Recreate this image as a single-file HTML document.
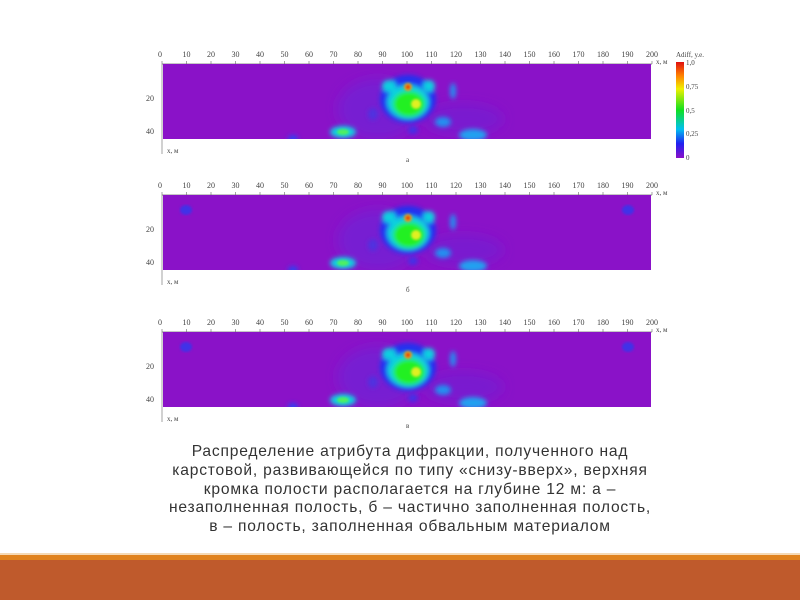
<!DOCTYPE html>
<html><head><meta charset="utf-8"><style>
body{margin:0;width:800px;height:600px;background:#fff;position:relative;overflow:hidden;font-family:"Liberation Sans",sans-serif}
.cap{position:absolute;left:100px;top:443px;width:620px;text-align:center;font-size:15.6px;letter-spacing:0.8px;line-height:18.8px;color:#333;white-space:nowrap}
.b1{position:absolute;left:0;top:553px;width:800px;height:2px;background:#f5d9b5}
.b2{position:absolute;left:0;top:555px;width:800px;height:5px;background:#e0821e}
.b3{position:absolute;left:0;top:560px;width:800px;height:40px;background:#bf5a2c}
</style></head><body>
<svg width="800" height="560" style="position:absolute;left:0;top:0" font-family="Liberation Serif,serif" font-size="8" fill="#444">
<defs>
<filter id="bl" x="-20%" y="-50%" width="140%" height="200%"><feGaussianBlur stdDeviation="2.5"/></filter>
<filter id="bl3" x="-20%" y="-50%" width="140%" height="200%"><feGaussianBlur stdDeviation="6"/></filter>
<filter id="bl2"><feGaussianBlur stdDeviation="1.2"/></filter>
<clipPath id="cp"><rect x="0" y="0" width="488" height="75"/></clipPath>
<linearGradient id="cb" x1="0" y1="1" x2="0" y2="0">
<stop offset="0" stop-color="#8a10c8"/><stop offset="0.15" stop-color="#2020f0"/><stop offset="0.3" stop-color="#00c0f0"/><stop offset="0.5" stop-color="#10e020"/><stop offset="0.72" stop-color="#f0f000"/><stop offset="0.86" stop-color="#ff8000"/><stop offset="1" stop-color="#e01010"/></linearGradient>
<g id="hm">
<rect width="488" height="75" fill="#8a12c8"/>
<g clip-path="url(#cp)">
<g filter="url(#bl3)">
<ellipse cx="215" cy="45" rx="40" ry="30" fill="#6a24d8" opacity="0.6"/>
<ellipse cx="300" cy="55" rx="40" ry="15" fill="#6a24d8" opacity="0.5"/>
</g>
<g filter="url(#bl)">
<ellipse cx="245" cy="35" rx="28" ry="24" fill="#2030f0"/>
<ellipse cx="245" cy="38" rx="21" ry="17" fill="#10d0e0"/>
<ellipse cx="226" cy="22" rx="7" ry="6" fill="#10d0e0"/>
<ellipse cx="266" cy="22" rx="6" ry="6" fill="#10d0e0"/>
<ellipse cx="246" cy="40" rx="16" ry="13" fill="#20f020"/>
<ellipse cx="180" cy="68" rx="13" ry="6" fill="#10d0e0"/>
<ellipse cx="290" cy="27" rx="3" ry="8" fill="#2090f0"/>
<ellipse cx="280" cy="58" rx="8" ry="5" fill="#2090f0"/>
<ellipse cx="310" cy="71" rx="14" ry="6" fill="#20a0f0"/>
<ellipse cx="130" cy="75" rx="5" ry="4" fill="#3040f0"/>
<ellipse cx="210" cy="50" rx="5" ry="6" fill="#5030e0"/>
<ellipse cx="250" cy="66" rx="5" ry="4" fill="#4030e8"/>
</g>
<g filter="url(#bl2)">
<circle cx="253" cy="40" r="5" fill="#e0f020"/>
<circle cx="245" cy="23" r="4" fill="#f0a010"/>
<circle cx="245" cy="23" r="2" fill="#e01010"/>
<ellipse cx="180" cy="68" rx="6" ry="3" fill="#50f060"/>
</g>
</g>
</g>
<g id="tk">
<line x1="162" y1="0" x2="652" y2="0" stroke="#666" stroke-width="0.8"/>
<g stroke="#666" stroke-width="0.6">
<line x1="162" y1="0" x2="162" y2="-3"/><line x1="186.5" y1="0" x2="186.5" y2="-3"/><line x1="211" y1="0" x2="211" y2="-3"/><line x1="235.5" y1="0" x2="235.5" y2="-3"/><line x1="260" y1="0" x2="260" y2="-3"/><line x1="284.5" y1="0" x2="284.5" y2="-3"/><line x1="309" y1="0" x2="309" y2="-3"/><line x1="333.5" y1="0" x2="333.5" y2="-3"/><line x1="358" y1="0" x2="358" y2="-3"/><line x1="382.5" y1="0" x2="382.5" y2="-3"/><line x1="407" y1="0" x2="407" y2="-3"/><line x1="431.5" y1="0" x2="431.5" y2="-3"/><line x1="456" y1="0" x2="456" y2="-3"/><line x1="480.5" y1="0" x2="480.5" y2="-3"/><line x1="505" y1="0" x2="505" y2="-3"/><line x1="529.5" y1="0" x2="529.5" y2="-3"/><line x1="554" y1="0" x2="554" y2="-3"/><line x1="578.5" y1="0" x2="578.5" y2="-3"/><line x1="603" y1="0" x2="603" y2="-3"/><line x1="627.5" y1="0" x2="627.5" y2="-3"/><line x1="652" y1="0" x2="652" y2="-3"/>
<line x1="162" y1="0" x2="162" y2="90"/>
</g>
<g text-anchor="middle">
<text x="160" y="-7">0</text><text x="186.5" y="-7">10</text><text x="211" y="-7">20</text><text x="235.5" y="-7">30</text><text x="260" y="-7">40</text><text x="284.5" y="-7">50</text><text x="309" y="-7">60</text><text x="333.5" y="-7">70</text><text x="358" y="-7">80</text><text x="382.5" y="-7">90</text><text x="407" y="-7">100</text><text x="431.5" y="-7">110</text><text x="456" y="-7">120</text><text x="480.5" y="-7">130</text><text x="505" y="-7">140</text><text x="529.5" y="-7">150</text><text x="554" y="-7">160</text><text x="578.5" y="-7">170</text><text x="603" y="-7">180</text><text x="627.5" y="-7">190</text><text x="652" y="-7">200</text>
</g>
<text x="656" y="0" font-size="7">x, м</text>
<text x="146" y="37">20</text><text x="146" y="70">40</text>
<text x="167" y="89" font-size="7">x, м</text>
</g>
</defs>
<g transform="translate(0,64)"><use href="#tk"/><use href="#hm" x="163" y="0"/><text x="406" y="98" font-size="7">а</text></g>
<g transform="translate(0,195)"><use href="#tk"/><use href="#hm" x="163" y="0"/><ellipse cx="186" cy="15" rx="6" ry="5" fill="#4030e8" filter="url(#bl2)"/><ellipse cx="628" cy="15" rx="6" ry="5" fill="#4030e8" filter="url(#bl2)"/><text x="406" y="97" font-size="7">б</text></g>
<g transform="translate(0,332)"><use href="#tk"/><use href="#hm" x="163" y="0"/><ellipse cx="186" cy="15" rx="6" ry="5" fill="#4030e8" filter="url(#bl2)"/><ellipse cx="628" cy="15" rx="6" ry="5" fill="#4030e8" filter="url(#bl2)"/><text x="406" y="96" font-size="7">в</text></g>
<rect x="676" y="62" width="8" height="96" fill="url(#cb)"/>
<g font-size="7"><text x="676" y="57">Adiff, у.е.</text><text x="686" y="65">1,0</text><text x="686" y="89">0,75</text><text x="686" y="113">0,5</text><text x="686" y="136">0,25</text><text x="686" y="160">0</text></g>
</svg>
<div class="cap">Распределение атрибута дифракции, полученного над<br>карстовой, развивающейся по типу «снизу-вверх», верхняя<br>кромка полости располагается на глубине 12 м: а –<br>незаполненная полость, б – частично заполненная полость,<br>в – полость, заполненная обвальным материалом</div>
<div class="b1"></div><div class="b2"></div><div class="b3"></div>
</body></html>
